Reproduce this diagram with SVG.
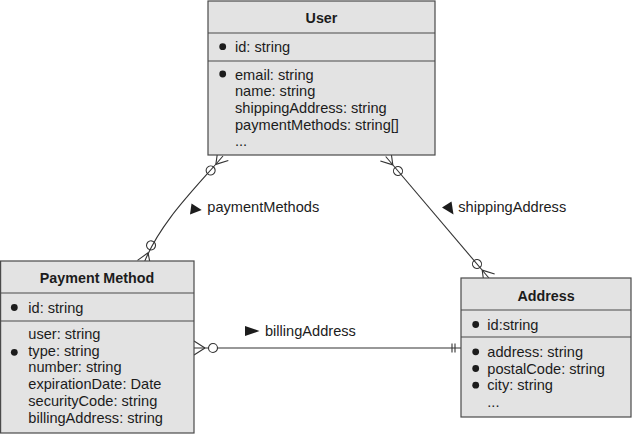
<svg xmlns="http://www.w3.org/2000/svg" width="633" height="434" viewBox="0 0 633 434">
<style>
.box{fill:#e3e3e3;stroke:#4a4a4a;stroke-width:1.2}
.sep{stroke:#4a4a4a;stroke-width:1.2}
text{font-family:"Liberation Sans",Arial,sans-serif;font-size:14.6px;fill:#1c1c1c}
.title{font-weight:bold;text-anchor:middle;font-size:14.3px}
.dot{fill:#1c1c1c}
.conn{fill:none;stroke:#333;stroke-width:1.1}
</style>
<defs>
<marker id="zeroMany" markerUnits="userSpaceOnUse" orient="auto-start-reverse" refX="0" refY="0" markerWidth="30" markerHeight="20" viewBox="-26 -10 30 20" overflow="visible">
<path d="M-11,0 L0,-7 M-11,0 L0,7" fill="none" stroke="#333" stroke-width="1.1"/>
<circle cx="-19" cy="0" r="4.5" fill="none" stroke="#333" stroke-width="1.1"/>
</marker>
<marker id="zeroManyW" markerUnits="userSpaceOnUse" orient="auto-start-reverse" refX="0" refY="0" markerWidth="30" markerHeight="20" viewBox="-26 -10 30 20" overflow="visible">
<path d="M-11,0 L0,-7 M-11,0 L0,7" fill="none" stroke="#333" stroke-width="1.1"/>
<circle cx="-19" cy="0" r="4.5" fill="#fff" stroke="#333" stroke-width="1.1"/>
</marker>
<marker id="oneOnly" markerUnits="userSpaceOnUse" orient="auto" refX="0" refY="0" markerWidth="20" markerHeight="20" viewBox="-15 -10 20 20" overflow="visible">
<path d="M-9,-4.5 L-9,4.5 M-6,-4.5 L-6,4.5" fill="none" stroke="#333" stroke-width="1.1"/>
</marker>
</defs>

<g id="connectors">
<path class="conn" d="M223,156 C194.4,189.4 160.3,222 144,263" marker-start="url(#zeroMany)" marker-end="url(#zeroMany)"/>
<path class="conn" d="M385.7,156.5 L489.3,278.5" marker-start="url(#zeroMany)" marker-end="url(#zeroMany)"/>
<path class="conn" d="M194,348 L461,348" marker-start="url(#zeroManyW)" marker-end="url(#oneOnly)"/>
</g>

<g id="labels">
<polygon points="191.5,203.5 201.7,210 190,214.5" fill="#1c1c1c"/>
<text x="207.3" y="212">paymentMethods</text>
<polygon points="442,207.5 451.5,201.5 453.5,214.5" fill="#1c1c1c"/>
<text x="458.3" y="212">shippingAddress</text>
<polygon points="245,326 259.5,331 245,336" fill="#1c1c1c"/>
<text x="265" y="335.5">billingAddress</text>
</g>

<g id="user">
<rect class="box" x="208" y="1" width="227" height="154"/>
<line class="sep" x1="208" y1="33" x2="435" y2="33"/>
<line class="sep" x1="208" y1="61" x2="435" y2="61"/>
<text class="title" x="321.5" y="23">User</text>
<circle class="dot" cx="222.7" cy="46.7" r="3.4"/>
<text x="235" y="52">id: string</text>
<circle class="dot" cx="222.7" cy="74" r="3.4"/>
<text x="235" y="79.5">email: string</text>
<text x="235" y="96.2">name: string</text>
<text x="235" y="112.9">shippingAddress: string</text>
<text x="235" y="129.6">paymentMethods: string[]</text>
<text x="235" y="146.3">...</text>
</g>

<g id="payment-method">
<rect class="box" x="0.6" y="261" width="193.4" height="172"/>
<line class="sep" x1="0.6" y1="293" x2="194" y2="293"/>
<line class="sep" x1="0.6" y1="321" x2="194" y2="321"/>
<text class="title" x="97" y="282.5">Payment Method</text>
<circle class="dot" cx="14.3" cy="307.5" r="3.4"/>
<text x="28.3" y="312.5">id: string</text>
<text x="28.3" y="339">user: string</text>
<circle class="dot" cx="14.3" cy="352.3" r="3.4"/>
<text x="28.3" y="355.7">type: string</text>
<text x="28.3" y="372.4">number: string</text>
<text x="28.3" y="389.1">expirationDate: Date</text>
<text x="28.3" y="405.8">securityCode: string</text>
<text x="28.3" y="422.5">billingAddress: string</text>
</g>

<g id="address">
<rect class="box" x="461" y="278" width="170" height="139"/>
<line class="sep" x1="461" y1="310" x2="631" y2="310"/>
<line class="sep" x1="461" y1="337" x2="631" y2="337"/>
<text class="title" x="546" y="301">Address</text>
<circle class="dot" cx="475.7" cy="324.5" r="3.4"/>
<text x="487.3" y="329.5">id:string</text>
<circle class="dot" cx="475.7" cy="351.8" r="3.4"/>
<text x="487.3" y="356.8">address: string</text>
<circle class="dot" cx="475.7" cy="368.5" r="3.4"/>
<text x="487.3" y="373.5">postalCode: string</text>
<circle class="dot" cx="475.7" cy="385.2" r="3.4"/>
<text x="487.3" y="390.2">city: string</text>
<text x="487.3" y="406.9">...</text>
</g>
</svg>
